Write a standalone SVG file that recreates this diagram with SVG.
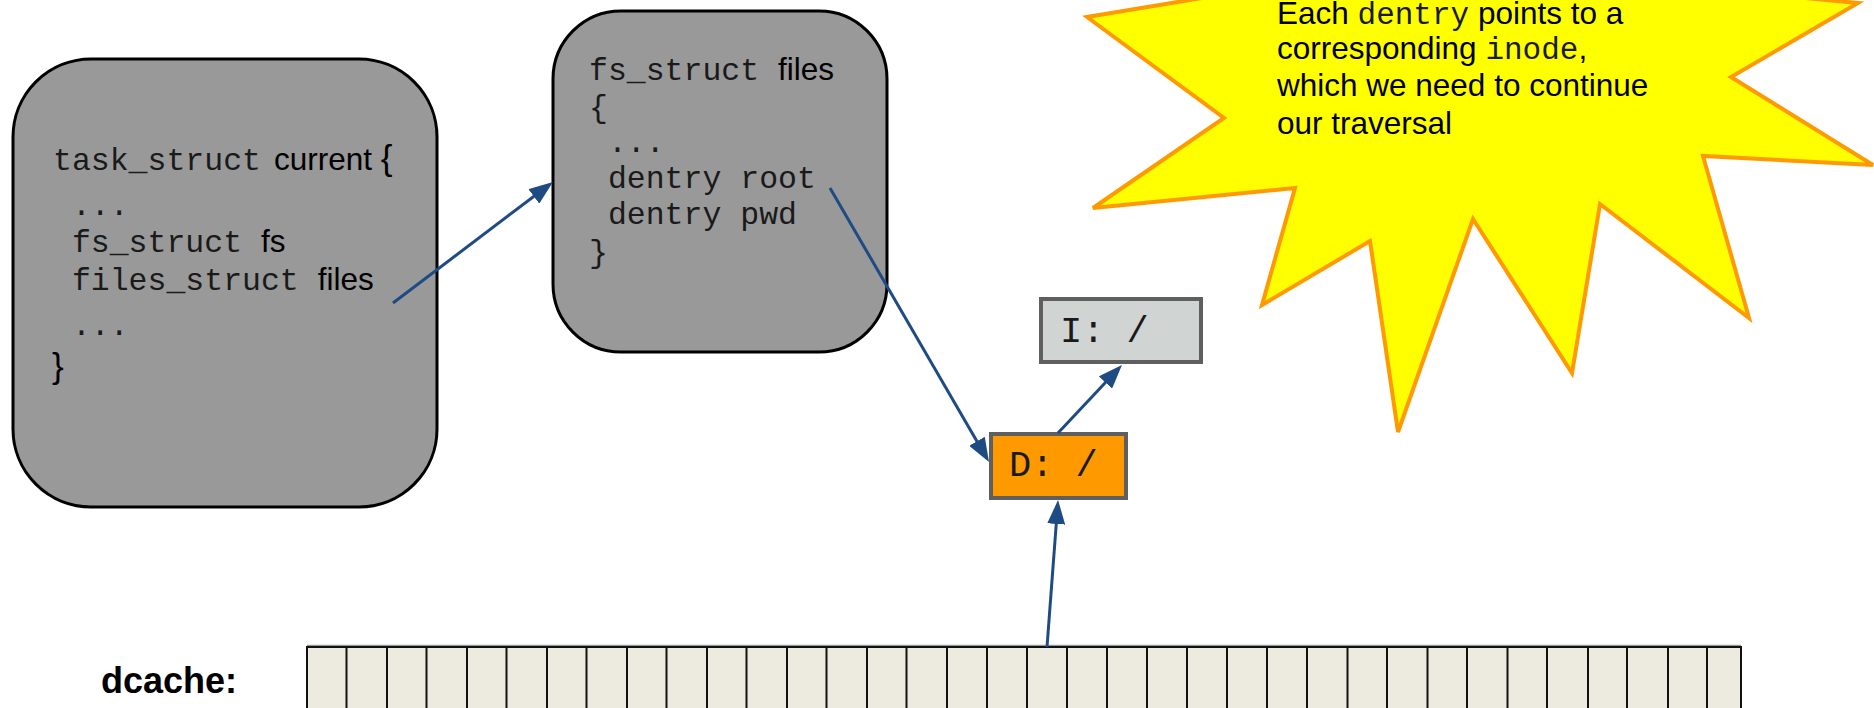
<svg xmlns="http://www.w3.org/2000/svg" width="1874" height="708" viewBox="0 0 1874 708">
  <style>
    .struct { fill: #999999; stroke: #000000; stroke-width: 3; }
    .mono { font-family: "Liberation Mono", "Courier New", monospace; fill: #1a1a1a; }
    .sans { font-family: "Liberation Sans", Arial, sans-serif; fill: #000000; }
    .code { font-size: 31.5px; }
    .entry { stroke: #5f5f5f; stroke-width: 4; }
    .link { fill: none; stroke: #1f4b84; stroke-width: 3; }
    .cell { fill: #edeae0; stroke: #111111; stroke-width: 2; }
  </style>
  <defs>
    <marker id="head" markerUnits="userSpaceOnUse" markerWidth="24" markerHeight="18" refX="14" refY="9" orient="auto">
      <path d="M0,0 L24,9 L0,18 Z" fill="#1f4b84"/>
    </marker>
  </defs>

  <rect width="1874" height="708" fill="#ffffff"/>

  <!-- callout burst -->
  <g id="callout">
    <polygon points="1087,17 1224,118 1093,208 1295,188 1262,305 1370,241 1398,432 1473,219 1572,373 1600,204 1749,318 1703,156 1873,165 1731,77 1858,3 1700,-12 1640,-80 1540,-20 1440,-90 1350,-20 1250,-10" fill="#ffff00" stroke="#ff9900" stroke-width="4" stroke-linejoin="miter"/>
    <text class="sans" font-size="31.5" x="1277" y="24">Each <tspan class="mono" font-size="31">dentry</tspan> points to a</text>
    <text class="sans" font-size="31.5" x="1277" y="59">corresponding <tspan class="mono" font-size="31">inode</tspan>,</text>
    <text class="sans" font-size="31.5" x="1277" y="96">which we need to continue</text>
    <text class="sans" font-size="31.5" x="1277" y="134">our traversal</text>
  </g>

  <!-- task_struct -->
  <g id="task-struct">
    <rect class="struct" x="13" y="59" width="424" height="448" rx="78" ry="78"/>
    <text class="code" y="170"><tspan class="mono" x="53">task_struct</tspan><tspan class="sans" x="274">current </tspan><tspan class="sans" font-size="35">{</tspan></text>
    <text class="mono code" x="53" y="215" xml:space="preserve"> ...</text>
    <text class="code" y="252" xml:space="preserve"><tspan class="mono" x="53"> fs_struct </tspan><tspan class="sans">fs</tspan></text>
    <text class="code" y="290" xml:space="preserve"><tspan class="mono" x="53"> files_struct </tspan><tspan class="sans">files</tspan></text>
    <text class="mono code" x="53" y="335" xml:space="preserve"> ...</text>
    <text class="sans" font-size="35" x="52" y="378">}</text>
  </g>

  <!-- fs_struct -->
  <g id="fs-struct">
    <rect class="struct" x="553" y="11" width="334" height="341" rx="68" ry="68"/>
    <text class="code" y="80" xml:space="preserve"><tspan class="mono" x="589">fs_struct </tspan><tspan class="sans">files</tspan></text>
    <text class="mono code" x="589" y="117">{</text>
    <text class="mono code" x="589" y="152" xml:space="preserve"> ...</text>
    <text class="mono code" x="589" y="188" xml:space="preserve"> dentry root</text>
    <text class="mono code" x="589" y="224" xml:space="preserve"> dentry pwd</text>
    <text class="mono code" x="589" y="262">}</text>
  </g>

  <!-- inode entry -->
  <g id="inode-root">
    <rect class="entry" x="1041" y="299" width="160" height="63" fill="#d0d5d4"/>
    <text class="mono" font-size="37" x="1060" y="342" xml:space="preserve">I: /</text>
  </g>

  <!-- dentry entry -->
  <g id="dentry-root">
    <rect class="entry" x="991" y="434" width="135" height="64" fill="#ff9900"/>
    <text class="mono" font-size="37" x="1009" y="476" xml:space="preserve">D: /</text>
  </g>

  <!-- dentry cache hash table -->
  <g id="dcache">
    <text class="sans" font-size="36" font-weight="bold" x="101" y="693">dcache:</text>
    <line x1="307" y1="645.5" x2="1741" y2="645.5" stroke="#9a9a9a" stroke-width="1.5"/>
    <rect class="cell" x="307" y="647" width="1434" height="80"/>
    <path stroke="#111111" stroke-width="2" fill="none" d="
      M346.5,647V708 M387,647V708 M426.5,647V708 M467,647V708 M506.5,647V708
      M547,647V708 M586.5,647V708 M627,647V708 M666.5,647V708 M707,647V708
      M746.5,647V708 M787,647V708 M826.5,647V708 M867,647V708 M906.5,647V708
      M947,647V708 M987,647V708 M1027,647V708 M1067,647V708 M1107,647V708
      M1147,647V708 M1187,647V708 M1227,647V708 M1267,647V708 M1307,647V708
      M1347.5,647V708 M1387,647V708 M1427.5,647V708 M1467,647V708 M1507.5,647V708
      M1547,647V708 M1588,647V708 M1627,647V708 M1668,647V708 M1707,647V708"/>
  </g>

  <!-- pointers -->
  <g id="connectors">
    <line class="link" x1="393" y1="303" x2="545" y2="188" marker-end="url(#head)"/>
    <line class="link" x1="830" y1="188" x2="984" y2="453.4" marker-end="url(#head)"/>
    <line class="link" x1="1058" y1="433" x2="1115.1" y2="372.3" marker-end="url(#head)"/>
    <line class="link" x1="1047" y1="647" x2="1057.3" y2="510" marker-end="url(#head)"/>
  </g>
</svg>
